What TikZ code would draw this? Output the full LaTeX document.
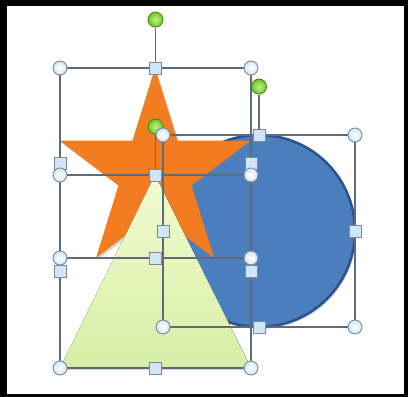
\documentclass[tikz,border=0pt]{standalone}
\usetikzlibrary{positioning,shadows}
\definecolor{StarOrange}{RGB}{242,124,32}
\definecolor{CircleBlue}{RGB}{74,126,189}
\definecolor{CircleEdge}{RGB}{42,82,140}
\definecolor{TriPale}{RGB}{242,251,208}
\definecolor{TriGreen}{RGB}{214,239,165}
\definecolor{FrameGrey}{RGB}{95,107,124}
\definecolor{HandleBlue}{RGB}{208,230,248}
\definecolor{TurnGreen}{RGB}{110,196,40}
\definecolor{TurnLight}{RGB}{195,242,135}

\begin{document}
\begin{tikzpicture}[x=1pt,y=-1pt,
  selframe/.style={draw=FrameGrey,line width=1.3pt},
  cornerhandle/.style={circle,draw=FrameGrey!80,line width=0.9pt,inner sep=0pt,
    minimum size=14pt,inner color=white,outer color=HandleBlue},
  sidehandle/.style={rectangle,draw=FrameGrey!80,line width=0.9pt,inner sep=0pt,
    minimum size=12pt,fill=HandleBlue},
  turnhandle/.style={circle,draw=TurnGreen!70!black,line width=0.9pt,inner sep=0pt,
    minimum size=15pt,inner color=TurnLight,outer color=TurnGreen},
  softshadow/.style={drop shadow={opacity=0.3,shadow xshift=1.5pt,shadow yshift=-2pt}}]
  \useasboundingbox (0,0) rectangle (408,397);
  \fill[black] (0,0) rectangle (408,397);
  \fill[white] (7,6) rectangle (404,394);

  % shapes, back to front
  \filldraw[fill=CircleBlue,draw=CircleEdge,line width=2.5pt,softshadow]
    (259,231) circle[radius=96pt];
  \fill[StarOrange,softshadow] (155,68) -- (177.5,140.5) -- (250.5,140.5)
    -- (191.5,185.4) -- (214,258) -- (155,213) -- (96,258) -- (118.5,185.4)
    -- (59.5,140.5) -- (132.5,140.5) -- cycle;
  \fill[top color=TriPale,bottom color=TriGreen,softshadow]
    (155,175) -- (251,368) -- (60,368) -- cycle;

  % selection frames
  \foreach \nm/\xa/\ya/\xb/\yb in {star/60/68/251/258,tri/60/175/251/368,circ/163/135/355/327}
    \draw[selframe] (\xa,\ya) rectangle (\xb,\yb);

  % handles
  \foreach \nm/\xa/\ya/\xb/\yb [evaluate=\xa as \xm using (\xa+\xb)/2,
      evaluate=\ya as \ym using (\ya+\yb)/2]
      in {star/60/68/251/258,tri/60/175/251/368,circ/163/135/355/327} {
    \node[sidehandle] (\nm-w) at (\xa,\ym) {};
    \node[sidehandle] (\nm-e) at (\xb,\ym) {};
    \node[sidehandle] (\nm-s) at (\xm,\yb) {};
    \node[sidehandle] (\nm-n) at (\xm,\ya) {};
    \node[cornerhandle] (\nm-nw) at (\xa,\ya) {};
    \node[cornerhandle] (\nm-ne) at (\xb,\ya) {};
    \node[cornerhandle] (\nm-sw) at (\xa,\yb) {};
    \node[cornerhandle] (\nm-se) at (\xb,\yb) {};
    \node[turnhandle,above=34pt of \nm-n] (\nm-turn) {};
    \draw[selframe] (\nm-turn) -- (\nm-n);
  }
\end{tikzpicture}
\end{document}
